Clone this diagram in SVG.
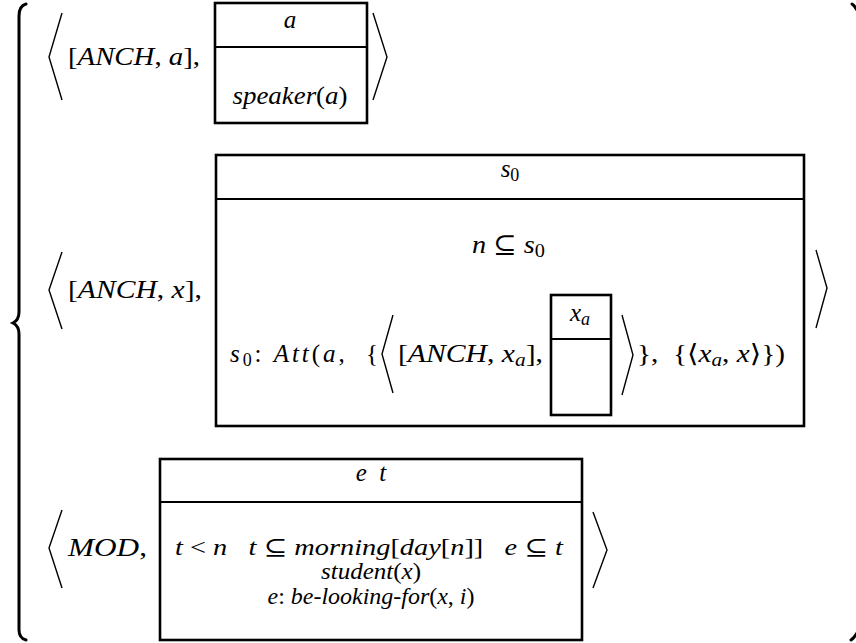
<svg xmlns="http://www.w3.org/2000/svg" width="856" height="643" viewBox="0 0 856 643">
<style>
text{font-family:"Liberation Serif","Times New Roman","DejaVu Serif",serif;font-size:25px;fill:#000}
.i{font-style:italic}
.c{text-anchor:middle}
.s{font-size:23px}
.box{fill:none;stroke:#000;stroke-width:2.6}
.div{stroke:#000;stroke-width:2}
.ang{fill:none;stroke:#000;stroke-width:1.4}
.brace{fill:none;stroke:#000;stroke-width:3;stroke-linecap:round}
</style>
<rect width="856" height="643" fill="#fff"/>
<g id="braces">
<path class="brace" d="M26,4 Q19,6 19,16 L19,312 Q19,320 13,323 Q19,326 19,334 L19,630 Q19,638 26,640"/>
<path class="brace" d="M852,4 Q855,6 857,10"/>
<path class="brace" d="M851,640 Q854,638 857,633"/>
</g>
<g id="row1">
<path class="ang" d="M62,13 L49,57 L62,100"/>
<text x="68" y="65" textLength="132" lengthAdjust="spacingAndGlyphs">[<tspan class="i">ANCH</tspan>, <tspan class="i">a</tspan>],</text>
<g id="box1">
<rect class="box" x="215" y="3" width="152" height="120"/>
<line class="div" x1="215" y1="47" x2="367" y2="47"/>
<text class="c i" x="290" y="28">a</text>
<text class="c" x="290" y="104" textLength="115" lengthAdjust="spacingAndGlyphs"><tspan class="i">speaker</tspan>(<tspan class="i">a</tspan>)</text>
</g>
<path class="ang" d="M373,13 L387,57 L373,100"/>
</g>
<g id="row2">
<path class="ang" d="M62,252 L49,290 L62,329"/>
<text x="68" y="298" textLength="134" lengthAdjust="spacingAndGlyphs">[<tspan class="i">ANCH</tspan>, <tspan class="i">x</tspan>],</text>
<g id="box2">
<rect class="box" x="216" y="155" width="588" height="271"/>
<line class="div" x1="216" y1="199" x2="804" y2="199"/>
<text class="c" x="510" y="177"><tspan class="i">s</tspan><tspan font-size="18" dy="4">0</tspan></text>
<text x="472" y="253" textLength="73" lengthAdjust="spacingAndGlyphs"><tspan class="i">n</tspan> ⊆ <tspan class="i">s</tspan><tspan font-size="18" dy="4">0</tspan></text>
<text x="230" y="362" textLength="148" lengthAdjust="spacing" xml:space="preserve"><tspan class="i">s</tspan><tspan font-size="18" dy="4">0</tspan><tspan dy="-4">: </tspan><tspan class="i">Att</tspan>(<tspan class="i">a</tspan>,  {</text>
<path class="ang" d="M393,315 L382,354 L393,393"/>
<text x="398" y="362" textLength="145" lengthAdjust="spacingAndGlyphs">[<tspan class="i">ANCH</tspan>, <tspan class="i">x</tspan><tspan class="i" font-size="18" dy="4">a</tspan><tspan dy="-4">],</tspan></text>
<g id="box2a">
<rect class="box" x="551" y="295" width="60" height="120"/>
<line class="div" x1="551" y1="339" x2="611" y2="339"/>
<text class="c" x="580" y="321"><tspan class="i">x</tspan><tspan class="i" font-size="18" dy="4">a</tspan></text>
</g>
<path class="ang" d="M622,315 L633,355 L622,395"/>
<text x="637" y="362" textLength="148" lengthAdjust="spacingAndGlyphs" xml:space="preserve">},  {⟨<tspan class="i">x</tspan><tspan class="i" font-size="18" dy="4">a</tspan><tspan dy="-4">, </tspan><tspan class="i">x</tspan>⟩})</text>
</g>
<path class="ang" d="M816,250 L827,288 L816,328"/>
</g>
<g id="row3">
<path class="ang" d="M62,510 L49,548 L62,588"/>
<text x="68" y="556" textLength="79" lengthAdjust="spacingAndGlyphs"><tspan class="i">MOD</tspan>,</text>
<g id="box3">
<rect class="box" x="160" y="459" width="422" height="181"/>
<line class="div" x1="160" y1="502" x2="582" y2="502"/>
<text class="c i" x="371" y="481" xml:space="preserve">e  t</text>
<text class="s" x="175" y="555" textLength="388" lengthAdjust="spacingAndGlyphs" xml:space="preserve"><tspan class="i">t</tspan> &lt; <tspan class="i">n</tspan>   <tspan class="i">t</tspan> ⊆ <tspan class="i">morning</tspan>[<tspan class="i">day</tspan>[<tspan class="i">n</tspan>]]   <tspan class="i">e</tspan> ⊆ <tspan class="i">t</tspan></text>
<text class="c s" x="371" y="579" textLength="100" lengthAdjust="spacingAndGlyphs"><tspan class="i">student</tspan>(<tspan class="i">x</tspan>)</text>
<text class="c s" x="371" y="604" textLength="207" lengthAdjust="spacingAndGlyphs"><tspan class="i">e</tspan>: <tspan class="i">be-looking-for</tspan>(<tspan class="i">x</tspan>, <tspan class="i">i</tspan>)</text>
</g>
<path class="ang" d="M593,512 L607,550 L593,588"/>
</g>
</svg>
